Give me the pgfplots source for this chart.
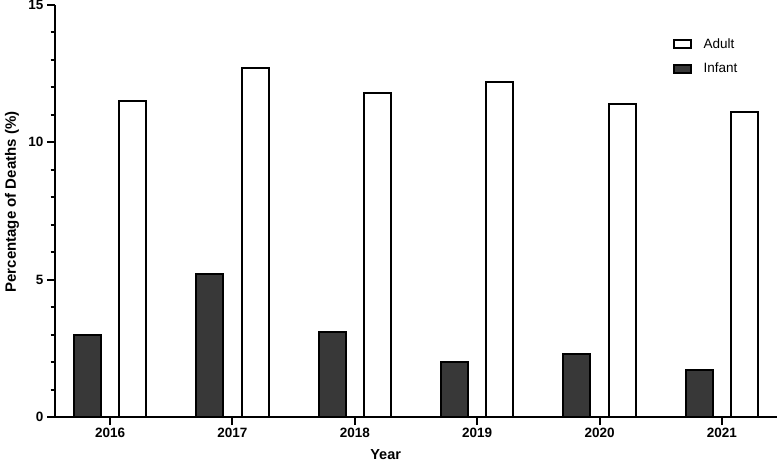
\documentclass[border=0pt]{standalone}
\usepackage{pgfplots}
\pgfplotsset{compat=1.18}
\usepackage{fontspec}
\setmainfont{Liberation Sans}
\definecolor{infant}{HTML}{383838}
\begin{document}
\begin{tikzpicture}
\path[use as bounding box] (-55bp,-49bp) rectangle (722bp,417bp);
\begin{axis}[
  at={(0,0)}, anchor=south west,
  scale only axis, width=722bp, height=412bp,
  xmin=2015.55, xmax=2021.45, ymin=0, ymax=15,
  axis x line=bottom, axis y line=left,
  axis line style={line width=2.2bp, -},
  ytick={0,5,10,15}, minor y tick num=4,
  xtick={2016,2017,2018,2019,2020,2021},
  xticklabels={2016,2017,2018,2019,2020,2021},
  tick align=outside,
  major tick length=8bp, minor tick length=4.5bp,
  tick style={line width=2bp, black},
  /pgf/number format/assume math mode=true,
  ticklabel style={font=\fontsize{13.5bp}{15bp}\selectfont\bfseries},
  ylabel={Percentage of Deaths (\%)},
  xlabel={Year},
  ylabel style={font=\fontsize{15bp}{17bp}\selectfont\bfseries, at={(axis description cs:-0.0596,0.522)}, anchor=center},
  xlabel style={font=\fontsize{14.5bp}{17bp}\selectfont\bfseries, at={(axis description cs:0.458,-0.092)}, anchor=center},
  legend style={draw=none, fill=none, at={(axis description cs:0.851,0.928)}, anchor=north west,
    font=\fontsize{13.5bp}{15bp}\selectfont, row sep=9bp,
    /tikz/every odd column/.append style={column sep=10bp}},
  legend cell align=left,
  reverse legend,
  clip=false,
]
\addplot[ybar, bar width=27bp, bar shift=-22.7bp, fill=infant, draw=black, line width=2bp,
  legend image code/.code={\draw[fill=infant, draw=black, line width=2bp] (0bp,-4bp) rectangle (17bp,4bp);}]
  coordinates {(2016,3.0) (2017,5.2) (2018,3.1) (2019,2.0) (2020,2.3) (2021,1.7)};
\addlegendentry{Infant}
\addplot[ybar, bar width=27bp, bar shift=22.7bp, fill=white, draw=black, line width=2bp,
  legend image code/.code={\draw[fill=white, draw=black, line width=2bp] (0bp,-4bp) rectangle (17bp,4bp);}]
  coordinates {(2016,11.5) (2017,12.7) (2018,11.8) (2019,12.2) (2020,11.4) (2021,11.1)};
\addlegendentry{Adult}
\end{axis}
\end{tikzpicture}
\end{document}
